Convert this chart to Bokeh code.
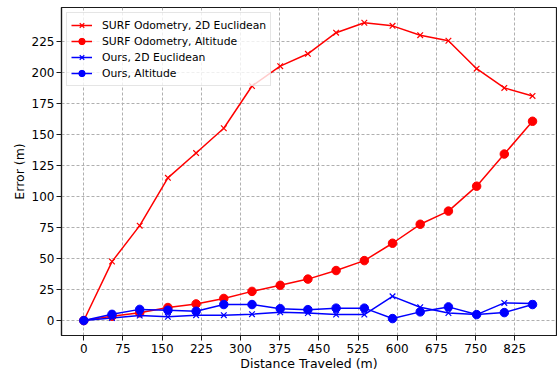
from bokeh.plotting import figure
from bokeh.models import Legend, LegendItem, FixedTicker, Range1d
from bokeh.embed import file_html
from bokeh.resources import INLINE

distance = [0, 54, 107, 161, 215, 268, 322, 376, 429, 483, 537, 591, 644, 698, 752, 805, 859]
surf_2d = [0, 47.5, 76.5, 115, 135, 155, 189, 205, 215, 232, 240, 237.5, 230, 225.5, 203, 187.5, 181]
surf_alt = [0, 3.5, 6.2, 10.5, 13.4, 17.8, 23.5, 28.4, 33.4, 40.3, 48.3, 62.3, 77.6, 88.2, 108.3, 134.2, 160.6]
ours_2d = [0, 2.0, 4.0, 3.0, 4.3, 4.3, 5.1, 6.7, 6.1, 4.8, 4.8, 19.5, 10.7, 6.1, 4.8, 14.2, 13.7]
ours_alt = [0, 5.0, 9.0, 8.3, 7.5, 12.9, 12.9, 9.6, 8.8, 10.0, 10.0, 1.6, 7.0, 11.0, 4.8, 6.4, 12.9]

x_ticks = [0, 75, 150, 225, 300, 375, 450, 525, 600, 675, 750, 825]
y_ticks = [0, 25, 50, 75, 100, 125, 150, 175, 200, 225]

labels = ["SURF Odometry, 2D Euclidean", "SURF Odometry, Altitude",
          "Ours, 2D Euclidean", "Ours, Altitude"]

FONT = "DejaVu Sans"

p = figure(width=557, height=373, output_backend="svg", toolbar_location=None,
           x_range=Range1d(-42.7, 904.9), y_range=Range1d(-12.05, 252.3),
           min_border_left=61, min_border_right=1, min_border_top=7, min_border_bottom=37)

p.outline_line_color = "#1a1a1a"
p.outline_line_width = 1.2
p.background_fill_color = "white"
p.border_fill_color = "white"

for ax in (p.xaxis[0], p.yaxis[0]):
    ax.major_label_text_font = FONT
    ax.major_label_text_font_size = "12px"
    ax.major_label_text_color = "#000000"
    ax.axis_label_text_font = FONT
    ax.axis_label_text_font_size = "12.5px"
    ax.axis_label_text_font_style = "normal"
    ax.axis_label_text_color = "#000000"
    ax.axis_line_color = "#1a1a1a"
    ax.axis_line_width = 1.2
    ax.major_tick_line_color = "#1a1a1a"
    ax.major_tick_out = 5
    ax.major_tick_in = 0
    ax.minor_tick_line_color = None
    ax.axis_label_standoff = 0

p.xaxis.major_label_standoff = 3
p.yaxis.major_label_standoff = 2
p.yaxis.axis_label_standoff = 2

p.xaxis.ticker = FixedTicker(ticks=x_ticks)
p.yaxis.ticker = FixedTicker(ticks=y_ticks)
p.xaxis.axis_label = "Distance Traveled (m)"
p.yaxis.axis_label = "Error (m)"

for g in (p.xgrid[0], p.ygrid[0]):
    g.grid_line_color = "#b0b0b0"
    g.grid_line_dash = "3 2"
    g.grid_line_width = 1

RED = "#ff0000"
BLUE = "#0000ff"

series = [
    (surf_2d, RED, "x"),
    (surf_alt, RED, "circle"),
    (ours_2d, BLUE, "x"),
    (ours_alt, BLUE, "circle"),
]

items = []
for (vals, col, mk), lab in zip(series, labels):
    ln = p.line(distance, vals, line_color=col, line_width=1.5)
    if mk == "x":
        sc = p.scatter(distance, vals, marker="x", size=8, line_color=col, line_width=1.2)
    else:
        sc = p.scatter(distance, vals, marker="circle", size=8.5, fill_color=col, line_color=col)
    items.append(LegendItem(label=lab, renderers=[ln, sc]))

legend = Legend(items=items, location="top_left")
legend.label_text_font = FONT
legend.label_text_font_size = "10.8px"
legend.label_text_color = "#000000"
legend.glyph_width = 21
legend.glyph_height = 16
legend.label_height = 16
legend.label_standoff = 10
legend.spacing = 0
legend.padding = 4
legend.margin = 5
legend.border_line_color = "#cccccc"
legend.border_line_width = 1
legend.background_fill_color = "white"
legend.background_fill_alpha = 0.8
p.add_layout(legend)

open("out.html", "w").write(file_html(p, INLINE))
